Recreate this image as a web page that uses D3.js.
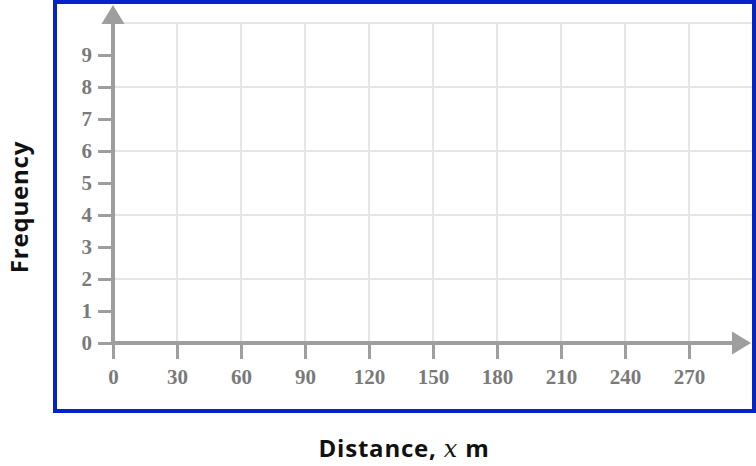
<!DOCTYPE html>
<html>
<head>
<meta charset="utf-8">
<script src="https://cdn.jsdelivr.net/npm/d3@7"></script>
<style>
  html, body { margin: 0; padding: 0; background: #fff; }
  svg { display: block; }
  .tick text { font-family: "Liberation Serif", "Times New Roman", serif; font-weight: 700; font-size: 21px; }
  .title { font-family: "Open Sans", Lato, sans-serif; font-weight: 700; font-size: 24px; letter-spacing: 0.8px; }
</style>
</head>
<body>
<svg id="chart"></svg>
<script>
const xTicks = [0, 30, 60, 90, 120, 150, 180, 210, 240, 270];
const yTicks = [0, 1, 2, 3, 4, 5, 6, 7, 8, 9];
const xGrid = [30, 60, 90, 120, 150, 180, 210, 240, 270];
const yGrid = [2, 4, 6, 8, 10];
const xTitle = "Distance, ";
const xVar = "x";
const xUnit = " m";
const yTitle = "Frequency";

const width = 756;
const height = 466;
const axisColor = "#9e9e9e";
const labelColor = "#7a7a7a";
const gridColor = "#e6e6e6";

const svg = d3.select("#chart").attr("width", width).attr("height", height);

const x = d3.scaleLinear().domain([0, 300]).range([113, 753]);
const y = d3.scaleLinear().domain([0, 10]).range([343, 23]);

// frame
svg.append("rect")
  .attr("x", 55).attr("y", 2)
  .attr("width", 699).attr("height", 409)
  .attr("fill", "#fff")
  .attr("stroke", "#0424c9")
  .attr("stroke-width", 4);

// grid
svg.append("g")
  .selectAll("line")
  .data(xGrid)
  .join("line")
  .attr("x1", d => x(d)).attr("x2", d => x(d))
  .attr("y1", y(0)).attr("y2", y(10))
  .attr("stroke", gridColor).attr("stroke-width", 2);

svg.append("g")
  .selectAll("line")
  .data(yGrid)
  .join("line")
  .attr("x1", x(0)).attr("x2", 752)
  .attr("y1", d => y(d)).attr("y2", d => y(d))
  .attr("stroke", gridColor).attr("stroke-width", 2);

// x axis ticks + labels
const gx = svg.append("g")
  .attr("transform", `translate(0,${y(0)})`)
  .call(d3.axisBottom(x).tickValues(xTicks).tickSize(16).tickPadding(10));
gx.select(".domain").remove();
gx.attr("font-family", null).attr("font-size", null);
gx.selectAll(".tick line").attr("stroke", axisColor).attr("stroke-width", 3);
gx.selectAll(".tick text").attr("fill", labelColor);

// y axis ticks + labels
const gy = svg.append("g")
  .attr("transform", `translate(${x(0)},0)`)
  .call(d3.axisLeft(y).tickValues(yTicks).tickSize(15).tickPadding(6));
gy.select(".domain").remove();
gy.attr("font-family", null).attr("font-size", null);
gy.selectAll(".tick line").attr("stroke", axisColor).attr("stroke-width", 3);
gy.selectAll(".tick text").attr("fill", labelColor);

// axis lines with arrows
svg.append("line")
  .attr("x1", x(0)).attr("x2", 734)
  .attr("y1", y(0)).attr("y2", y(0))
  .attr("stroke", axisColor).attr("stroke-width", 4);
svg.append("path")
  .attr("d", `M751,${y(0)} L732,${y(0) - 11.5} L732,${y(0) + 11.5} Z`)
  .attr("fill", axisColor);

svg.append("line")
  .attr("x1", x(0)).attr("x2", x(0))
  .attr("y1", y(0) + 2).attr("y2", 22)
  .attr("stroke", axisColor).attr("stroke-width", 4);
svg.append("path")
  .attr("d", `M${x(0)},5 L${x(0) - 11.5},24 L${x(0) + 11.5},24 Z`)
  .attr("fill", axisColor);

// titles
const xt = svg.append("text")
  .attr("class", "title")
  .attr("x", 404).attr("y", 457)
  .attr("text-anchor", "middle")
  .attr("fill", "#111");
xt.append("tspan").text(xTitle);
xt.append("tspan")
  .attr("font-family", "'DejaVu Serif', serif")
  .attr("font-style", "italic")
  .attr("font-weight", "normal")
  .text(xVar);
xt.append("tspan").text(xUnit);

svg.append("text")
  .attr("class", "title")
  .attr("transform", "translate(28,207) rotate(-90)")
  .attr("text-anchor", "middle")
  .attr("fill", "#111")
  .text(yTitle);
</script>
</body>
</html>
